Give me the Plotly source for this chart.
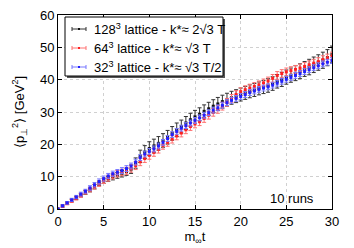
import plotly.graph_objects as go

t = [i * 0.5 for i in range(61)]

y128 = [0, 0.9, 1.8, 2.6, 3.4, 4.2, 5.1, 5.9, 6.9, 7.9, 8.7, 9.3, 9.9, 10.4, 10.9, 11.5,
        12.3, 14.2, 16.3, 17.6, 18.7, 19.5, 20.3, 21.2, 22.2, 23.4, 24.5, 25.5, 26.6, 27.6,
        28.5, 29.3, 30.2, 31.0, 31.8, 32.5, 33.2, 33.8, 34.4, 34.9, 35.4, 35.9, 36.4, 36.8,
        37.3, 37.7, 38.2, 38.8, 39.5, 40.1, 40.8, 41.4, 42.0, 42.6, 43.3, 43.9, 44.6, 45.3,
        46.0, 46.8, 47.8]
e128 = [0.1, 0.3, 0.4, 0.4, 0.5, 0.5, 0.6, 0.6, 0.7, 0.7, 0.8, 0.8, 0.9, 0.9, 1.0, 1.1,
        1.3, 1.6, 1.9, 2.0, 2.1, 2.1, 2.1, 2.1, 2.1, 2.1, 2.1, 2.0, 2.0, 2.0,
        2.0, 2.0, 2.0, 2.0, 2.0, 2.0, 2.0, 2.0, 2.0, 2.0, 2.0, 2.0, 2.0, 2.0,
        2.0, 2.0, 2.1, 2.1, 2.1, 2.2, 2.2, 2.2, 2.3, 2.3, 2.3, 2.4, 2.4, 2.4,
        2.5, 2.5, 2.6]

y64 = [0, 0.9, 1.7, 2.5, 3.3, 4.2, 5.2, 6.0, 6.9, 7.8, 8.7, 9.5, 10.2, 10.9, 11.3, 11.8,
       12.5, 13.4, 14.6, 15.6, 16.6, 17.5, 18.5, 19.7, 20.6, 21.6, 22.6, 23.5, 24.5, 25.5,
       26.3, 27.0, 28.0, 29.0, 29.9, 30.8, 31.8, 33.0, 34.2, 35.4, 36.3, 36.9, 37.4, 37.9,
       38.4, 39.0, 39.6, 40.4, 41.3, 41.9, 42.4, 42.8, 43.2, 43.6, 44.1, 44.6, 45.1, 45.6,
       46.2, 46.7, 47.3]
e64 = [0.1, 0.3, 0.4, 0.5, 0.5, 0.6, 0.6, 0.7, 0.7, 0.8, 0.8, 0.9, 0.9, 1.0, 1.0, 1.1,
       1.1, 1.2, 1.2, 1.2, 1.2, 1.2, 1.2, 1.2, 1.2, 1.2, 1.2, 1.2, 1.2, 1.2,
       1.2, 1.2, 1.2, 1.2, 1.2, 1.2, 1.2, 1.2, 1.2, 1.2, 1.2, 1.2, 1.2, 1.2,
       1.2, 1.2, 1.2, 1.2, 1.2, 1.2, 1.2, 1.2, 1.2, 1.2, 1.2, 1.2, 1.2, 1.2,
       1.2, 1.2, 1.2]

y32 = [0, 1.0, 1.9, 2.8, 3.7, 4.6, 5.5, 6.5, 7.5, 8.5, 9.4, 10.2, 10.9, 11.4, 11.9, 12.5,
       13.3, 14.5, 15.9, 17.0, 17.8, 18.6, 19.5, 20.6, 21.8, 23.0, 24.0, 25.0, 25.8, 26.6,
       27.4, 28.2, 29.0, 29.8, 30.6, 31.3, 32.1, 32.9, 33.6, 34.2, 34.8, 35.4, 36.0, 36.5,
       37.0, 37.4, 37.8, 38.3, 38.9, 39.5, 40.1, 40.7, 41.3, 41.9, 42.5, 43.1, 43.7, 44.3,
       44.9, 45.4, 45.9]
e32 = [0.1, 0.3, 0.4, 0.5, 0.5, 0.6, 0.6, 0.7, 0.7, 0.8, 0.8, 0.8, 0.8, 0.8, 0.9, 0.9,
       0.9, 0.9, 0.9, 0.9, 0.9, 0.9, 0.9, 0.9, 0.9, 0.9, 0.9, 0.9, 0.9, 0.9,
       0.9, 0.9, 0.9, 0.9, 0.9, 0.9, 0.9, 0.9, 0.9, 0.9, 0.9, 0.9, 0.9, 0.9,
       0.9, 0.9, 0.9, 0.9, 0.9, 0.9, 0.9, 0.9, 0.9, 0.9, 0.9, 0.9, 0.9, 0.9,
       0.9, 0.9, 0.9]

labels = ["128<sup>3</sup> lattice - k*≈ 2√3 T",
          "64<sup>3</sup> lattice - k*≈ √3 T",
          "32<sup>3</sup> lattice - k*≈ √3 T/2"]
series = [(y128, e128, "#111111", "#333333"),
          (y64, e64, "#ff2020", "#ff7070"),
          (y32, e32, "#2020ff", "#7777ff")]
xticks = [0, 5, 10, 15, 20, 25, 30]
yticks = [0, 10, 20, 30, 40, 50, 60]
note = "10 runs"

fig = go.Figure()
for (ys, es, mc, ec), name in zip(series, labels):
    fig.add_trace(go.Scatter(
        x=t, y=ys, mode="markers", name=name, showlegend=False,
        marker=dict(color=mc, size=3, symbol="square"),
        error_y=dict(type="data", array=es, visible=True, color=ec, thickness=1, width=2),
    ))

# manual legend (paper coords of the plot area)
W, H = 274.0, 194.0
def px(x):
    return (x - 58) / W
def py(y):
    return (209 - y) / H

shapes = []
shapes.append(dict(type="rect", xref="paper", yref="paper",
                   x0=px(67), x1=px(225), y0=py(78), y1=py(19),
                   fillcolor="#555555", line=dict(width=0)))
shapes.append(dict(type="rect", xref="paper", yref="paper",
                   x0=px(65), x1=px(223), y0=py(76), y1=py(17),
                   fillcolor="white", line=dict(color="black", width=1)))
annotations = []
rows = [29, 48, 67]
for (ys, es, mc, ec), name, ry in zip(series, labels, rows):
    shapes.append(dict(type="line", xref="paper", yref="paper",
                       x0=px(72), x1=px(86), y0=py(ry), y1=py(ry),
                       line=dict(color=ec, width=1)))
    for cx in (72, 86):
        shapes.append(dict(type="line", xref="paper", yref="paper",
                           x0=px(cx), x1=px(cx), y0=py(ry - 2), y1=py(ry + 2),
                           line=dict(color=ec, width=1)))
    shapes.append(dict(type="rect", xref="paper", yref="paper",
                       x0=px(78), x1=px(80), y0=py(ry + 1), y1=py(ry - 1),
                       fillcolor=mc, line=dict(width=0)))
    annotations.append(dict(xref="paper", yref="paper", x=px(92), y=py(ry),
                            xanchor="left", yanchor="middle", text=name, showarrow=False,
                            font=dict(size=13, color="black")))

annotations.append(dict(xref="x", yref="y", x=28.3, y=3.3, xanchor="right", yanchor="middle",
                        text=note, showarrow=False, font=dict(size=13, color="black")))

axis_common = dict(showline=True, linecolor="black", linewidth=1, mirror="ticks",
                   ticks="inside", ticklen=4, tickcolor="black", automargin=False,
                   showgrid=True, gridcolor="#d0d0d0", griddash="dot", gridwidth=1,
                   zeroline=False, tickfont=dict(size=13, color="black"))

fig.update_layout(
    width=354, height=248,
    margin=dict(l=58, r=22, t=15, b=39),
    paper_bgcolor="white", plot_bgcolor="white",
    font=dict(family="Liberation Sans, Arial, sans-serif", color="black"),
    shapes=shapes, annotations=annotations,
    xaxis=dict(range=[0, 30], tickvals=xticks, ticktext=[str(v) for v in xticks],
               title=dict(text="m<sub>∞</sub>t", font=dict(size=13), standoff=4), **axis_common),
    yaxis=dict(range=[0, 60], tickvals=yticks, ticktext=[str(v) for v in yticks],
               title=dict(text="⟨p<sub>⊥</sub><sup>2</sup>⟩ [GeV<sup>2</sup>]", font=dict(size=13), standoff=12),
               **axis_common),
)

fig.write_html("out.html", config={"displayModeBar": False},
               post_script="document.body.style.margin='0';")
